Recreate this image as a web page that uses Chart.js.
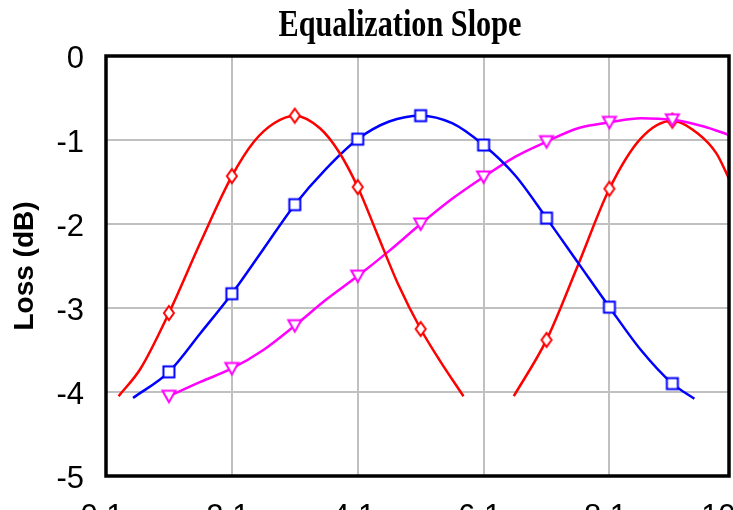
<!DOCTYPE html>
<html>
<head>
<meta charset="utf-8">
<script src="https://cdn.jsdelivr.net/npm/chart.js@4/dist/chart.umd.min.js"></script>
<style>
    html, body { margin: 0; padding: 0; background: #fff; overflow: hidden; }
    #wrap { width: 733px; height: 540px; position: relative; }
</style>
</head>
<body>
<div id="wrap"><canvas id="slopeChart"></canvas></div>
<script>
// 数据
const titleText = 'Equalization Slope';
const yAxisTitle = 'Loss (dB)';
const xTickValues = [0, 2, 4, 6, 8, 10];
const xTickLabels = ['0.1', '2.1', '4.1', '6.1', '8.1', '10.1'];

// 红色左曲线
const red1X = [0.2, 0.55, 1, 1.5, 2, 2.35, 2.67, 3, 3.4, 3.7, 4, 4.3, 4.65, 5, 5.3, 5.68];
const red1Y = [-4.05, -3.72, -3.06, -2.22, -1.43, -1.02, -0.80, -0.71, -0.86, -1.14, -1.56, -2.10, -2.73, -3.25, -3.62, -4.05];

// 红色右曲线
const red2X = [6.48, 7, 7.5, 8, 8.5, 9, 9.4, 9.7, 9.9];
const red2Y = [-4.05, -3.38, -2.49, -1.58, -0.98, -0.77, -0.92, -1.16, -1.46];

// 蓝色曲线
const blueX = [0.43, 1, 1.5, 2, 2.5, 3, 3.5, 4, 4.5, 5, 5.5, 6, 6.5, 7, 7.5, 8, 8.5, 9, 9.35];
const blueY = [-4.07, -3.76, -3.30, -2.83, -2.30, -1.77, -1.34, -0.99, -0.78, -0.71, -0.80, -1.06, -1.42, -1.93, -2.46, -2.99, -3.50, -3.90, -4.08];

// 品红曲线
const magentaX = [1, 1.5, 2, 2.5, 3, 3.5, 4, 4.5, 5, 5.5, 6, 6.5, 7, 7.5, 8, 8.5, 9, 9.5, 9.9];
const magentaY = [-4.05, -3.88, -3.72, -3.50, -3.21, -2.90, -2.62, -2.32, -2.00, -1.70, -1.44, -1.20, -1.02, -0.86, -0.79, -0.74, -0.76, -0.84, -0.94];

function toPoints(xs, ys) {
    return xs.map((x, i) => ({ x: x, y: ys[i] }));
}

// 空心标记
function makeMarker(shape, color) {
    const c = document.createElement('canvas');
    c.width = 18;
    c.height = 18;
    const g = c.getContext('2d');
    g.strokeStyle = color;
    g.lineWidth = 2;
    g.fillStyle = '#fff';
    g.beginPath();
    if (shape === 'diamond') {
        g.moveTo(9, 2); g.lineTo(14, 9); g.lineTo(9, 16); g.lineTo(4, 9);
    } else if (shape === 'square') {
        g.rect(3.5, 3.5, 11, 11);
    } else {
        g.moveTo(2.5, 3.5); g.lineTo(15.5, 3.5); g.lineTo(9, 15);
    }
    g.closePath();
    g.fill();
    g.stroke();
    return c;
}

const markerRadius = ctx => Number.isInteger(ctx.raw && ctx.raw.x) ? 6 : 0;

function curve(label, xs, ys, color, shape) {
    return {
        label: label,
        data: toPoints(xs, ys),
        borderColor: color,
        borderWidth: 2.5,
        pointStyle: makeMarker(shape, color),
        pointRadius: markerRadius,
        pointHoverRadius: markerRadius,
        cubicInterpolationMode: 'monotone',
        fill: false
    };
}

// 标题和边框
const framePlugin = {
    id: 'frame',
    afterDraw(chart) {
        const ctx = chart.ctx;
        const a = chart.chartArea;
        ctx.save();
        ctx.strokeStyle = '#000';
        ctx.lineWidth = 3.5;
        ctx.strokeRect(a.left, a.top, a.right - a.left, a.bottom - a.top);
        ctx.font = 'bold 38px "Liberation Serif", "Times New Roman", serif';
        const w = ctx.measureText(titleText).width;
        const sx = 243 / w;
        ctx.translate(400, 36);
        ctx.scale(sx, 1);
        ctx.fillStyle = '#000';
        ctx.textAlign = 'center';
        ctx.textBaseline = 'alphabetic';
        ctx.fillText(titleText, 0, 0);
        ctx.restore();
    }
};

const tickFont = { family: '"Liberation Sans Narrow", "Liberation Sans", Arial, sans-serif', size: 31 };

new Chart(document.getElementById('slopeChart'), {
    type: 'line',
    data: {
        datasets: [
            curve('Red A', red1X, red1Y, '#ff0000', 'diamond'),
            curve('Blue', blueX, blueY, '#0000ff', 'square'),
            curve('Magenta', magentaX, magentaY, '#ff00ff', 'triangle'),
            curve('Red B', red2X, red2Y, '#ff0000', 'diamond')
        ]
    },
    options: {
        responsive: true,
        maintainAspectRatio: false,
        animation: false,
        layout: { autoPadding: false, padding: { top: 56, right: 4, left: 0, bottom: 0 } },
        plugins: {
            legend: { display: false },
            title: { display: false },
            tooltip: { enabled: false }
        },
        scales: {
            x: {
                type: 'linear',
                min: 0,
                max: 9.9,
                afterBuildTicks: s => { s.ticks = xTickValues.map(v => ({ value: v })); },
                ticks: {
                    autoSkip: false,
                    maxRotation: 0,
                    padding: 23,
                    labelOffset: -4,
                    color: '#000',
                    font: tickFont,
                    callback: (v, i) => xTickLabels[i]
                },
                grid: { color: '#c0c0c0', lineWidth: 2, drawTicks: false },
                border: { display: false },
                afterFit: s => { s.height = 64; s.paddingLeft = 0; s.paddingRight = 0; }
            },
            y: {
                min: -5,
                max: 0,
                ticks: {
                    stepSize: 1,
                    padding: 22,
                    labelOffset: 3,
                    color: '#000',
                    font: tickFont
                },
                grid: { color: '#c0c0c0', lineWidth: 2, drawTicks: false },
                border: { display: false },
                title: {
                    display: true,
                    text: yAxisTitle,
                    color: '#000',
                    padding: { top: 8, bottom: 0 },
                    font: { family: '"Liberation Sans", Arial, sans-serif', size: 28, weight: 'bold' }
                },
                afterFit: s => { s.width = 106; s.paddingTop = 0; s.paddingBottom = 0; }
            }
        }
    },
    plugins: [framePlugin]
});
</script>
</body>
</html>
